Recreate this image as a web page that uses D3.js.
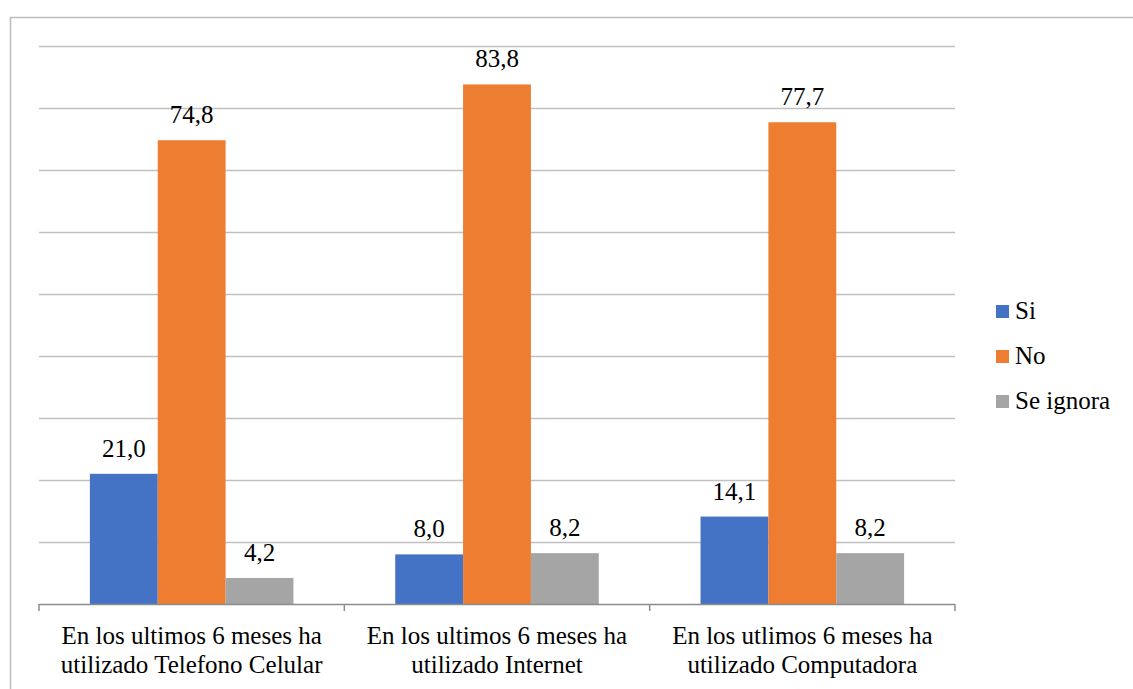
<!DOCTYPE html>
<html>
<head>
<meta charset="utf-8">
<script src="https://cdn.jsdelivr.net/npm/d3@7"></script>
<style>
  body { margin: 0; background: #fff; }
  .lbl { font-family: "Liberation Serif", "DejaVu Serif", "Times New Roman", serif; font-size: 25px; fill: #000; }
</style>
</head>
<body>
<div id="chart"></div>
<script>
const categories = [
    ["En los ultimos 6 meses ha", "utilizado Telefono Celular"],
    ["En los ultimos 6 meses ha", "utilizado Internet"],
    ["En los utlimos 6 meses ha", "utilizado Computadora"]
];
const seriesNames = ["Si", "No", "Se ignora"];
const siValues = [21.0, 8.0, 14.1];
const noValues = [74.8, 83.8, 77.7];
const ignoraValues = [4.2, 8.2, 8.2];
const yTicks = [0, 10, 20, 30, 40, 50, 60, 70, 80, 90];
const colors = ["#4472C4", "#ED7D31", "#A5A5A5"];

const series = [siValues, noValues, ignoraValues];
const width = 1133, height = 689;
const plotLeft = 39, plotRight = 955, plotTop = 46, plotBottom = 604;

const svg = d3.select('#chart')
    .append('svg')
    .attr('width', width)
    .attr('height', height);

// outer chart border
svg.append('rect')
    .attr('x', 10.5).attr('y', 17.5)
    .attr('width', 1140).attr('height', 700)
    .attr('fill', 'none')
    .attr('stroke', '#bcbcbc')
    .attr('stroke-width', 1.5);

const y = d3.scaleLinear().domain([0, 90]).range([plotBottom, plotTop]);
const x0 = d3.scaleBand().domain(d3.range(categories.length)).range([plotLeft, plotRight]);
const barW = x0.bandwidth() / 4.5;
const x1 = d3.scaleBand().domain(d3.range(series.length))
    .range([0, barW * 3]);
const offset = (x0.bandwidth() - barW * 3) / 2;

// gridlines
svg.append('g')
    .selectAll('line')
    .data(yTicks.slice(1))
    .join('line')
    .attr('x1', plotLeft).attr('x2', plotRight)
    .attr('y1', d => Math.round(y(d)) + 0.5)
    .attr('y2', d => Math.round(y(d)) + 0.5)
    .attr('stroke', '#c0c0c0')
    .attr('stroke-width', 1.3);

// bars
series.forEach((vals, s) => {
    svg.append('g')
        .selectAll('rect')
        .data(vals)
        .join('rect')
        .attr('x', (d, i) => x0(i) + offset + x1(s))
        .attr('y', d => y(d))
        .attr('width', x1.bandwidth())
        .attr('height', d => plotBottom - y(d))
        .attr('fill', colors[s]);

    svg.append('g')
        .selectAll('text')
        .data(vals)
        .join('text')
        .attr('class', 'lbl')
        .attr('x', (d, i) => x0(i) + offset + x1(s) + x1.bandwidth() / 2)
        .attr('y', d => y(d) - 17)
        .attr('text-anchor', 'middle')
        .text(d => d.toFixed(1).replace('.', ','));
});

// x axis
const xAxis = svg.append('g');
xAxis.append('line')
    .attr('x1', plotLeft).attr('x2', plotRight)
    .attr('y1', plotBottom + 0.5).attr('y2', plotBottom + 0.5)
    .attr('stroke', '#8c8c8c')
    .attr('stroke-width', 1.5);
xAxis.selectAll('.tick')
    .data(d3.range(categories.length + 1))
    .join('line')
    .attr('x1', i => i < categories.length ? x0(i) : plotRight)
    .attr('x2', i => i < categories.length ? x0(i) : plotRight)
    .attr('y1', plotBottom).attr('y2', plotBottom + 7)
    .attr('stroke', '#8c8c8c')
    .attr('stroke-width', 1.5);

const labels = xAxis.selectAll('.cat')
    .data(categories)
    .join('text')
    .attr('class', 'lbl')
    .attr('text-anchor', 'middle')
    .attr('y', 644);
labels.selectAll('tspan')
    .data((d, i) => d.map(t => ({ t, i })))
    .join('tspan')
    .attr('x', d => x0(d.i) + x0.bandwidth() / 2)
    .attr('dy', (d, j) => j === 0 ? 0 : 29)
    .text(d => d.t);

// legend
const legend = svg.append('g').attr('transform', 'translate(996, 305)');
seriesNames.forEach((name, i) => {
    legend.append('rect')
        .attr('x', 0).attr('y', i * 45)
        .attr('width', 13).attr('height', 13)
        .attr('fill', colors[i]);
    legend.append('text')
        .attr('class', 'lbl')
        .attr('x', 19).attr('y', i * 45 + 14)
        .text(name);
});
</script>
</body>
</html>
